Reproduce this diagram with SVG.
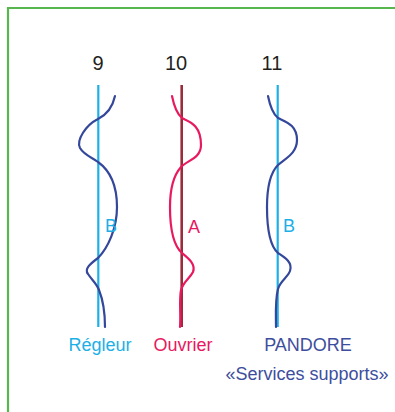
<svg xmlns="http://www.w3.org/2000/svg" width="395" height="412" viewBox="0 0 395 412">
<style>
text{font-family:"Liberation Sans","DejaVu Sans",sans-serif}
.num{font-size:20px;fill:#231f20;text-anchor:middle}
.lbl{font-size:18px;text-anchor:middle}
.cyan{fill:#1cb0e6}
.pink{fill:#e8195f}
.navy{fill:#3d4e9e}
.axis-c{stroke:#1cb0e6;stroke-width:2.2;fill:none}
.axis-r{stroke:#9b2c3c;stroke-width:2.6;fill:none}
.wave-n{stroke:#34479b;stroke-width:2.2;fill:none;stroke-linecap:round}
.wave-p{stroke:#e8195f;stroke-width:2.2;fill:none;stroke-linecap:round}
</style>
<rect width="395" height="412" fill="#fff"/>
<path d="M8,412 V8 H395" fill="none" stroke="#58b64f" stroke-width="2.2"/>
<g id="col9">
<text class="num" x="98" y="70">9</text>
<line class="axis-c" x1="98.3" y1="85" x2="98.3" y2="327"/>
<path class="wave-n" d="M115,96 C112,110 104,116 98,119 C86,125 76,140 80,148 C84,155 93,158 98,162 C112,172 117,190 117,207 C117,228 108,248 98,258 C90,264 84,269 88,274 C92,280 97,284 99,290 C103,300 105,315 105,327"/>
<text class="lbl cyan" x="111" y="232">B</text>
<text class="lbl cyan" x="100" y="351">Régleur</text>
</g>
<g id="col10">
<text class="num" x="176" y="70">10</text>
<line class="axis-r" x1="181.7" y1="85" x2="181.7" y2="327"/>
<path class="wave-p" d="M172,96 C174,106 177,114 182,118 C190,122 201,125 201,145 C201,158 188,160 181,167 C173,176 170,190 170,207 C170,230 174,246 182,253 C188,258 196,264 193,272 C190,278 183,282 181,290 C179,300 181,315 180,327"/>
<text class="lbl pink" x="194" y="233">A</text>
<text class="lbl pink" x="183" y="351">Ouvrier</text>
</g>
<g id="col11">
<text class="num" x="272" y="70">11</text>
<line class="axis-c" x1="277.7" y1="85" x2="277.7" y2="327"/>
<path class="wave-n" d="M268,96 C270,106 273,114 278,118 C286,122 297,125 297,140 C297,153 286,158 278,165 C270,173 267,190 267,207 C267,230 270,246 278,253 C284,257 293,262 290,271 C288,277 280,281 278,289 C275,300 276,315 276,327"/>
<text class="lbl cyan" x="289" y="232">B</text>
<text class="lbl navy" x="308" y="351">PANDORE</text>
<text class="lbl navy" x="307" y="380">«Services supports»</text>
</g>
</svg>
